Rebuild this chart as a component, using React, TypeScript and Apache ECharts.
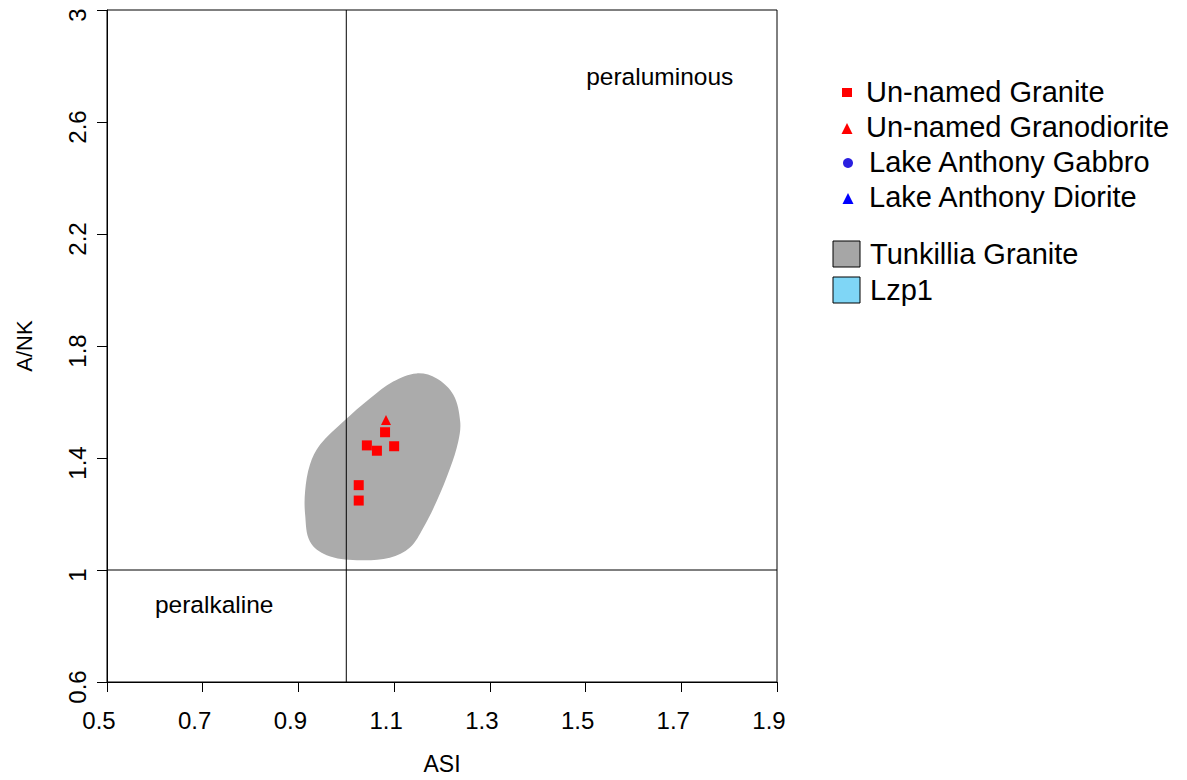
import React, { useEffect, useRef } from "react";
import * as echarts from "echarts";

const FONT = "'Liberation Sans', Arial, sans-serif";

const xTicks = [0.5, 0.7, 0.9, 1.1, 1.3, 1.5, 1.7, 1.9];
const yTicks = [0.6, 1, 1.4, 1.8, 2.2, 2.6, 3];

const pointSeriesNames = [
  "Un-named Granite",
  "Un-named Granodiorite",
  "Lake Anthony Gabbro",
  "Lake Anthony Diorite",
];
const fieldNames = ["Tunkillia Granite", "Lzp1"];

const graniteASI = [1.043, 1.064, 1.1, 1.081, 1.026, 1.026];
const graniteANK = [1.445, 1.426, 1.442, 1.492, 1.303, 1.248];

const granodioriteASI = [1.083];
const granodioriteANK = [1.536];

const gabbroASI: number[] = [];
const gabbroANK: number[] = [];
const dioriteASI: number[] = [];
const dioriteANK: number[] = [];

// Tunkillia Granite field outline (ASI, A/NK)
const tunkilliaASI = [
  1.147, 1.189, 1.224, 1.238, 1.234, 1.217, 1.189, 1.161, 1.133, 1.091,
  1.022, 0.959, 0.924, 0.914, 0.914, 0.924, 0.945, 0.994, 1.05, 1.098,
];
const tunkilliaANK = [
  1.702, 1.684, 1.625, 1.53, 1.459, 1.364, 1.246, 1.151, 1.08, 1.044,
  1.035, 1.053, 1.102, 1.198, 1.282, 1.376, 1.447, 1.53, 1.613, 1.673,
];

const ASI_BOUNDARY = 1.0;
const ANK_BOUNDARY = 1.0;

const annotations = [
  { text: "peraluminous", x: 1.655, y: 2.762 },
  { text: "peralkaline", x: 0.724, y: 0.877 },
];

const zip = (xs: number[], ys: number[]) => xs.map((x, i) => [x, ys[i]]);

export default function App() {
  const ref = useRef<HTMLDivElement>(null);

  useEffect(() => {
    if (!ref.current) return;
    const chart = echarts.init(ref.current, null, { renderer: "svg" });
    const xMin = xTicks[0];
    const xMax = xTicks[xTicks.length - 1];
    const yMin = yTicks[0];
    const yMax = yTicks[yTicks.length - 1];
    const fieldPts = zip(tunkilliaASI, tunkilliaANK);

    const legendY = [92, 127, 162, 197];
    const legendTextX = [866, 866, 869, 869];
    const fieldY = [254, 290];

    const graphic: any[] = [];
    graphic.push({
      type: "rect",
      shape: { x: 842, y: 88, width: 10, height: 9 },
      style: { fill: "#ff0000" },
    });
    graphic.push({
      type: "polygon",
      shape: { points: [[847, 123], [852.5, 134], [841.5, 134]] },
      style: { fill: "#ff0000" },
    });
    graphic.push({
      type: "circle",
      shape: { cx: 848, cy: 163, r: 5 },
      style: { fill: "#2a1fe0" },
    });
    graphic.push({
      type: "polygon",
      shape: { points: [[848, 193], [853.5, 204], [842.5, 204]] },
      style: { fill: "#0000ff" },
    });
    pointSeriesNames.forEach((n, i) => {
      graphic.push({
        type: "text",
        x: legendTextX[i],
        y: legendY[i],
        style: {
          text: n,
          font: `29px ${FONT}`,
          fill: "#000",
          verticalAlign: "middle",
          align: "left",
        },
      });
    });
    const fieldColors = ["#a6a6a6", "#7fd6f6"];
    fieldNames.forEach((n, i) => {
      graphic.push({
        type: "rect",
        shape: { x: 833, y: fieldY[i] - 13, width: 27, height: 26 },
        style: { fill: fieldColors[i], stroke: "#000", lineWidth: 1 },
      });
      graphic.push({
        type: "text",
        x: 870,
        y: fieldY[i],
        style: {
          text: n,
          font: `29px ${FONT}`,
          fill: "#000",
          verticalAlign: "middle",
          align: "left",
        },
      });
    });

    const fmt = (v: number) => String(Math.round(v * 10) / 10);

    chart.setOption({
      animation: false,
      backgroundColor: "#fff",
      textStyle: { fontFamily: FONT },
      grid: {
        left: 107,
        top: 10,
        width: 670,
        height: 675,
        show: true,
        borderColor: "#000",
        borderWidth: 1,
        backgroundColor: "transparent",
      },
      xAxis: {
        type: "value",
        min: xMin,
        max: xMax,
        name: "ASI",
        nameLocation: "middle",
        nameGap: 70,
        nameTextStyle: { fontSize: 23, color: "#000", fontFamily: FONT },
        axisLine: { show: true, onZero: false, lineStyle: { color: "#000" } },
        axisTick: {
          show: true,
          length: 10,
          customValues: xTicks,
          lineStyle: { color: "#000" },
        },
        axisLabel: {
          customValues: xTicks,
          fontSize: 24,
          color: "#000",
          margin: 26,
          padding: [0, 16, 0, 0],
          fontFamily: FONT,
          formatter: fmt,
        },
        splitLine: { show: false },
      },
      yAxis: {
        type: "value",
        min: yMin,
        max: yMax,
        name: "A/NK",
        nameLocation: "middle",
        nameGap: 72,
        nameTextStyle: { fontSize: 22, color: "#000", fontFamily: FONT },
        axisLine: { show: true, onZero: false, lineStyle: { color: "#000" } },
        axisTick: {
          show: true,
          length: 10,
          customValues: yTicks,
          lineStyle: { color: "#000" },
        },
        axisLabel: {
          customValues: yTicks,
          rotate: 90,
          fontSize: 24,
          color: "#000",
          margin: 18,
          padding: [0, 10, 0, 0],
          fontFamily: FONT,
          formatter: fmt,
        },
        splitLine: { show: false },
      },
      graphic,
      series: [
        {
          name: fieldNames[0],
          type: "custom",
          silent: true,
          z: 1,
          data: [[fieldPts[0][0], fieldPts[0][1]]],
          renderItem: (_params: any, api: any) => {
            const pts = fieldPts.map((p) => api.coord(p));
            return {
              type: "polygon",
              shape: { points: pts, smooth: 0.35 },
              style: { fill: "#ababab", stroke: "none" },
            };
          },
        },
        {
          name: "ASI boundary",
          type: "line",
          z: 2,
          symbol: "none",
          data: [
            [ASI_BOUNDARY, yMin],
            [ASI_BOUNDARY, yMax],
          ],
          lineStyle: { color: "#000", width: 1 },
        },
        {
          name: "A/NK boundary",
          type: "line",
          z: 2,
          symbol: "none",
          data: [
            [xMin, ANK_BOUNDARY],
            [xMax, ANK_BOUNDARY],
          ],
          lineStyle: { color: "#000", width: 1 },
        },
        {
          name: pointSeriesNames[0],
          type: "scatter",
          z: 3,
          symbol: "rect",
          symbolSize: 10,
          itemStyle: { color: "#ff0000", opacity: 1 },
          data: zip(graniteASI, graniteANK),
        },
        {
          name: pointSeriesNames[1],
          type: "scatter",
          z: 3,
          symbol: "triangle",
          symbolSize: 10,
          itemStyle: { color: "#ff0000", opacity: 1 },
          data: zip(granodioriteASI, granodioriteANK),
        },
        {
          name: pointSeriesNames[2],
          type: "scatter",
          z: 3,
          symbol: "circle",
          symbolSize: 10,
          itemStyle: { color: "#2a1fe0", opacity: 1 },
          data: zip(gabbroASI, gabbroANK),
        },
        {
          name: pointSeriesNames[3],
          type: "scatter",
          z: 3,
          symbol: "triangle",
          symbolSize: 10,
          itemStyle: { color: "#0000ff", opacity: 1 },
          data: zip(dioriteASI, dioriteANK),
        },
        {
          name: "annotations",
          type: "scatter",
          z: 4,
          symbolSize: 0,
          silent: true,
          itemStyle: { opacity: 1 },
          data: annotations.map((a) => ({ value: [a.x, a.y], name: a.text })),
          label: {
            show: true,
            position: "inside",
            formatter: (p: any) => p.name,
            fontSize: 24.5,
            color: "#000",
            fontFamily: FONT,
          },
        },
      ],
    });
    return () => chart.dispose();
  }, []);

  return <div ref={ref} style={{ width: 1187, height: 780, position: "absolute", left: 0, top: 0 }} />;
}
